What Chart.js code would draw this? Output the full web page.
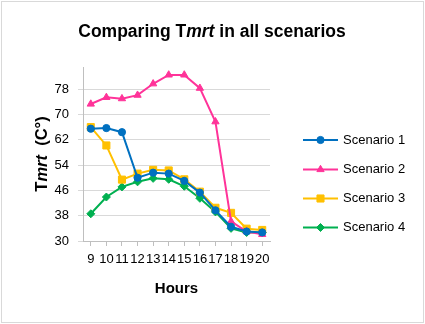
<!DOCTYPE html>
<html>
<head>
<meta charset="utf-8">
<script src="https://cdn.jsdelivr.net/npm/chart.js@4"></script>
<style>
  body { margin: 0; background: #fff; }
</style>
</head>
<body>
<canvas id="grafico" width="425" height="324"></canvas>
<script>
// datos
const horas = ['9', '10', '11', '12', '13', '14', '15', '16', '17', '18', '19', '20'];
const escenario1 = [65.5, 65.7, 64.4, 50.0, 51.6, 51.3, 49.0, 45.3, 39.7, 34.5, 33.0, 32.7];
const escenario2 = [73.3, 75.4, 75.0, 76.1, 79.7, 82.5, 82.5, 78.3, 67.7, 36.2, 33.0, 32.1];
const escenario3 = [66.0, 60.2, 49.4, 51.3, 52.5, 52.3, 49.5, 45.6, 40.5, 38.9, 33.9, 33.5];
const escenario4 = [38.6, 43.9, 47.1, 48.7, 49.8, 49.5, 47.3, 43.5, 39.2, 34.0, 32.7, 32.7];
const nombres = ['Scenario 1', 'Scenario 2', 'Scenario 3', 'Scenario 4'];
const marcasY = [30, 38, 46, 54, 62, 70, 78];
const yMin = 30, yMax = 85;

const colores = ['#0070C0', '#FF3399', '#FFC000', '#00B050'];
const marcas = ['circle', 'triangle', 'rect', 'rectRot'];
const radios = [3.6, 4.2, 5, 4];
const FUENTE = "'Liberation Sans', Arial, sans-serif";

function serie(i, datos) {
    return {
        label: nombres[i],
        data: datos,
        borderColor: colores[i],
        backgroundColor: colores[i],
        borderWidth: 2,
        pointStyle: marcas[i],
        pointRadius: radios[i],
        pointBorderWidth: 1,
        tension: 0
    };
}

// texto con partes en cursiva
function textoMixto(ctx, partes, x, y, size, rotado) {
    ctx.save();
    ctx.fillStyle = '#000';
    ctx.textBaseline = 'middle';
    let total = 0;
    partes.forEach(p => {
        ctx.font = (p.it ? 'italic ' : '') + 'bold ' + size + 'px ' + FUENTE;
        total += ctx.measureText(p.t).width;
    });
    ctx.translate(x, y);
    if (rotado) ctx.rotate(-Math.PI / 2);
    let cx = -total / 2;
    partes.forEach(p => {
        ctx.font = (p.it ? 'italic ' : '') + 'bold ' + size + 'px ' + FUENTE;
        ctx.textAlign = 'left';
        ctx.fillText(p.t, cx, 0);
        cx += ctx.measureText(p.t).width;
    });
    ctx.restore();
}

const extras = {
    id: 'extras',
    beforeDraw(chart) {
        const ctx = chart.ctx;
        ctx.save();
        ctx.fillStyle = '#fff';
        ctx.fillRect(0, 0, chart.width, chart.height);
        ctx.strokeStyle = '#d9d9d9';
        ctx.lineWidth = 1;
        ctx.strokeRect(1.5, 1.5, chart.width - 3, chart.height - 3);
        ctx.restore();
    },
    afterDraw(chart) {
        const ctx = chart.ctx;
        textoMixto(ctx, [{t: 'Comparing T'}, {t: 'mrt', it: true}, {t: ' in all scenarios'}], 212, 32, 17.5, false);
        textoMixto(ctx, [{t: 'T'}, {t: 'mrt', it: true}, {t: '  (C°)'}], 42, 154, 16.5, true);

        // leyenda
        const filas = [140, 169.5, 198.5, 227.5];
        chart.data.datasets.forEach((ds, i) => {
            const y = filas[i];
            ctx.save();
            ctx.strokeStyle = ds.borderColor;
            ctx.lineWidth = 2;
            ctx.beginPath();
            ctx.moveTo(303, y);
            ctx.lineTo(338, y);
            ctx.stroke();
            ctx.fillStyle = ds.backgroundColor;
            ctx.strokeStyle = ds.borderColor;
            ctx.lineWidth = 1;
            Chart.helpers.drawPoint(ctx, {
                pointStyle: ds.pointStyle, radius: ds.pointRadius, rotation: 0, borderWidth: 1
            }, 320.5, y);
            ctx.fillStyle = '#000';
            ctx.font = '13px ' + FUENTE;
            ctx.textAlign = 'left';
            ctx.textBaseline = 'middle';
            ctx.fillText(ds.label, 343, y);
            ctx.restore();
        });
    }
};

window.onload = function () {
    const ctx = document.getElementById('grafico');

    new Chart(ctx, {
        type: 'line',
        data: {
            labels: horas,
            datasets: [
                serie(0, escenario1),
                serie(1, escenario2),
                serie(2, escenario3),
                serie(3, escenario4)
            ]
        },
        options: {
            responsive: false,
            animation: false,
            layout: { padding: { top: 67, right: 155, left: 0, bottom: 0 } },
            plugins: {
                legend: { display: false },
                tooltip: { enabled: false }
            },
            scales: {
                x: {
                    offset: true,
                    grid: { offset: false, drawOnChartArea: false, tickLength: 5, color: '#bfbfbf' },
                    border: { color: '#bfbfbf' },
                    ticks: {
                        autoSkip: false, maxRotation: 0, padding: 6,
                        color: '#000', font: { family: FUENTE, size: 13 }
                    },
                    title: {
                        display: true, text: 'Hours', color: '#000',
                        font: { family: FUENTE, size: 15, weight: 'bold' },
                        padding: { top: 0, bottom: 26 }
                    },
                    afterFit(scale) { scale.height = 83; }
                },
                y: {
                    min: yMin,
                    max: yMax,
                    grid: { color: '#d9d9d9', tickLength: 5 },
                    border: { color: '#bfbfbf' },
                    ticks: {
                        padding: 9,
                        color: '#000', font: { family: FUENTE, size: 13 }
                    },
                    afterBuildTicks(scale) {
                        scale.ticks = marcasY.map(v => ({ value: v }));
                    },
                    afterFit(scale) { scale.width = 83; }
                }
            }
        },
        plugins: [extras]
    });
};
</script>
</body>
</html>
